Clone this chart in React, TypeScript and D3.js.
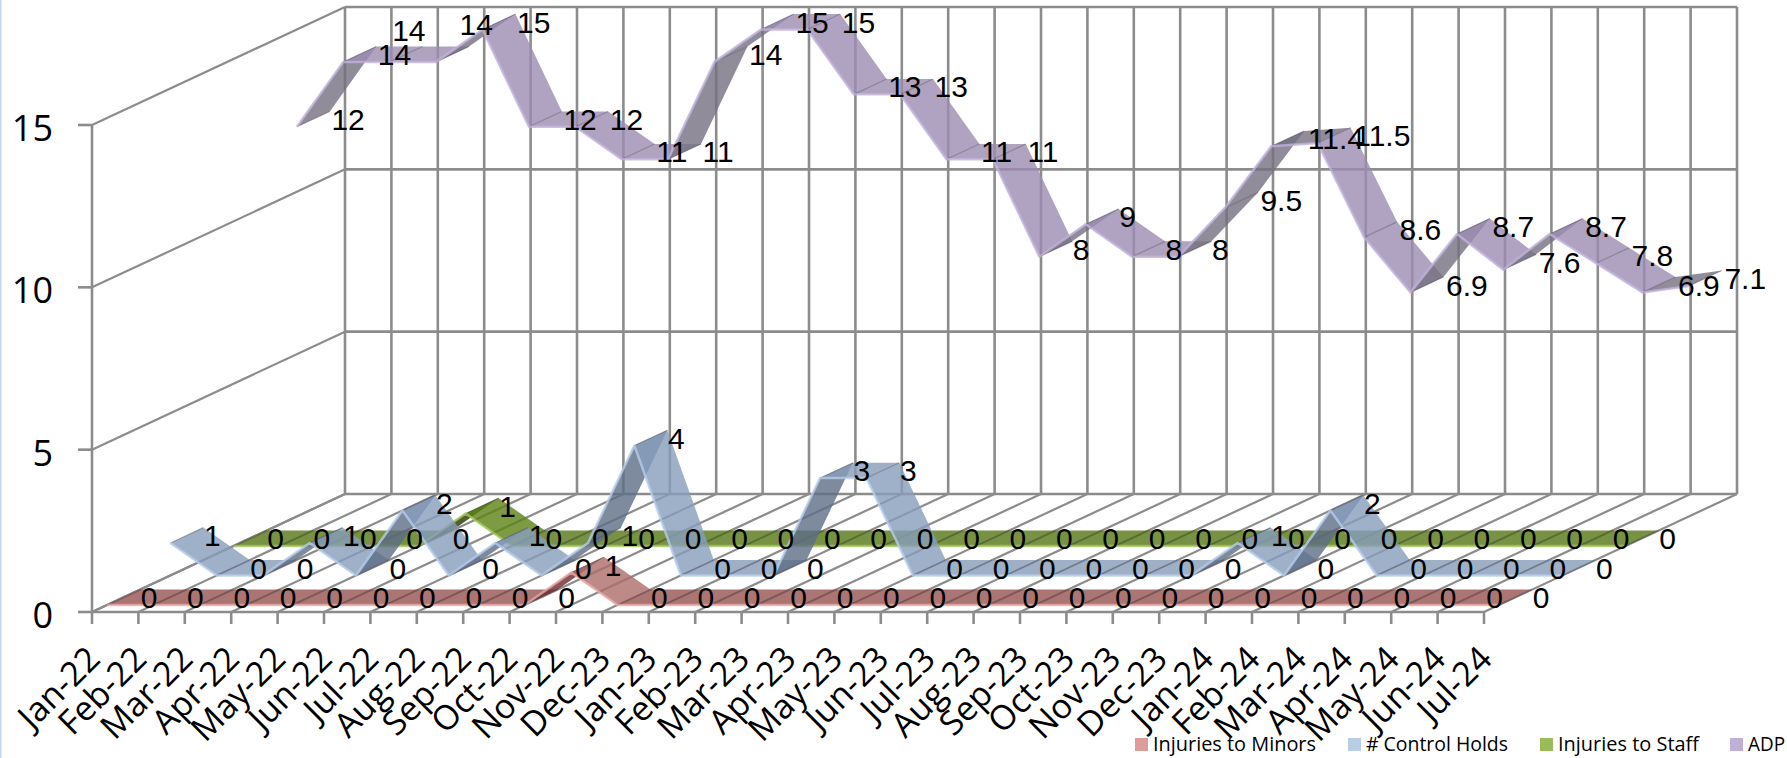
import React from "react";
import { scaleBand, scaleLinear, scalePoint, line } from "d3";

const categories = [
  "Jan-22", "Feb-22", "Mar-22", "Apr-22", "May-22", "Jun-22", "Jul-22", "Aug-22", "Sep-22", "Oct-22", "Nov-22",
  "Dec-23", "Jan-23", "Feb-23", "Mar-23", "Apr-23", "May-23", "Jun-23", "Jul-23", "Aug-23", "Sep-23", "Oct-23",
  "Nov-23", "Dec-23 ", "Jan-24", "Feb-24", "Mar-24", "Apr-24", "May-24", "Jun-24", "Jul-24",
];
const injuriesToMinors = [0, 0, 0, 0, 0, 0, 0, 0, 0, 0, 1, 0, 0, 0, 0, 0, 0, 0, 0, 0, 0, 0, 0, 0, 0, 0, 0, 0, 0, 0, 0];
const controlHolds = [1, 0, 0, 1, 0, 2, 0, 1, 0, 1, 4, 0, 0, 0, 3, 3, 0, 0, 0, 0, 0, 0, 0, 1, 0, 2, 0, 0, 0, 0, 0];
const injuriesToStaff = [0, 0, 0, 0, 0, 1, 0, 0, 0, 0, 0, 0, 0, 0, 0, 0, 0, 0, 0, 0, 0, 0, 0, 0, 0, 0, 0, 0, 0, 0, 0];
const adp = [12, 14, 14, 14, 15, 12, 12, 11, 11, 14, 15, 15, 13, 13, 11, 11, 8, 9, 8, 8, 9.5, 11.4, 11.5, 8.6, 6.9, 8.7, 7.6, 8.7, 7.8, 6.9, 7.1];
const yTicks = [0, 5, 10, 15];

const series = [
  { name: "Injuries to Minors", values: injuriesToMinors, swatch: "#dd9c9b", flat: "#965251", up: "#6b2a2a", down: "#ae6d6a", edge: "#e6a9a7" },
  { name: "# Control Holds", values: controlHolds, swatch: "#b9cde5", flat: "#879cb8", up: "#5e6d86", down: "#879dbb", edge: "#b5cce8" },
  { name: "Injuries to Staff", values: injuriesToStaff, swatch: "#9bbb59", flat: "#567714", up: "#243700", down: "#5c8214", edge: "#a3c45a" },
  { name: "ADP", values: adp, swatch: "#bfb1d5", flat: "#9c8cb0", up: "#746f80", down: "#9c8cb2", edge: "#c1b2da" },
];

// legend layout
const legendX = [1135, 1348, 1540, 1730];
const legendWidth = [163, 142, 141, 37];
// Excel moved these two ADP labels by hand
const labelNudge: Record<string, [number, number]> = { "ADP-2": [-32, -24], "ADP-3": [-11, -30] };

const W = 1787;
const H = 758;
const front = { left: 92, right: 1484, bottom: 612, top: 125 };
const depth = { dx: 253, dy: -118 };
const grid = "#8c8c8c";
const axisFont = "'Open Sans', 'Noto Sans', sans-serif";

export default function App() {
  const x = scalePoint().domain(categories.map((_, i) => String(i))).range([front.left, front.right]);
  const y = scaleLinear().domain([0, 15]).range([front.bottom, front.top]);
  const z = scaleBand().domain(series.map((s) => s.name)).range([0, 1]).paddingInner(0.48).paddingOuter(0.24);

  const project = (i: number, v: number, d: number): [number, number] => [
    (x(String(i)) ?? 0) + d * depth.dx,
    y(v) + d * depth.dy,
  ];
  const path = line();
  const ticksX = categories.map((_, i) => x(String(i)) ?? 0);

  return (
    <svg width={W} height={H} style={{ position: "absolute", left: 0, top: 0, background: "#fff" }}>
      <rect x={0} y={0} width={1.5} height={H} fill="#c6d7ef" />

      {/* walls and floor */}
      <g stroke={grid} strokeWidth={2.6} fill="none">
        {yTicks.map((v) => (
          <g key={v}>
            <line x1={front.left - 14} x2={front.left} y1={y(v)} y2={y(v)} />
            <line x1={front.left} x2={front.left + depth.dx} y1={y(v)} y2={y(v) + depth.dy} strokeWidth={2.2} />
            <line x1={front.left + depth.dx} x2={front.right + depth.dx} y1={y(v) + depth.dy} y2={y(v) + depth.dy} />
          </g>
        ))}
        <line x1={front.left} x2={front.left} y1={y(15)} y2={front.bottom} />
        <line x1={front.left} x2={front.right} y1={front.bottom} y2={front.bottom} />
        {ticksX.map((tx, i) => (
          <g key={i}>
            <line x1={tx} x2={tx} y1={front.bottom} y2={front.bottom + 12} />
            <line x1={tx} x2={tx + depth.dx} y1={front.bottom} y2={front.bottom + depth.dy} strokeWidth={2.2} />
            <line x1={tx + depth.dx} x2={tx + depth.dx} y1={front.bottom + depth.dy} y2={front.top + depth.dy} />
          </g>
        ))}
      </g>

      {/* ribbons, back series first */}
      {[...series].reverse().map((s) => {
        const d0 = z(s.name) ?? 0;
        const d1 = d0 + z.bandwidth();
        return (
          <g key={s.name}>
            {s.values.slice(1).map((v, k) => {
              const prev = s.values[k];
              const fill = v > prev ? s.up : v < prev ? s.down : s.flat;
              const pts = [project(k, prev, d0), project(k + 1, v, d0), project(k + 1, v, d1), project(k, prev, d1)];
              return <path key={k} d={path(pts) + "Z"} fill={fill} fillOpacity={0.8} />;
            })}
            {s.values.map((v, k) => {
              const a = project(k, v, d0);
              const b = project(k, v, d1);
              return <line key={k} x1={a[0]} y1={a[1]} x2={b[0]} y2={b[1]} stroke="#4a4458" strokeOpacity={0.4} strokeWidth={1.2} />;
            })}
            <path
              d={path(s.values.map((v, k) => project(k, v, d0))) ?? ""}
              fill="none"
              stroke={s.edge}
              strokeOpacity={0.8}
              strokeWidth={2.5}
              strokeLinejoin="round"
            />
          </g>
        );
      })}

      {/* data labels */}
      <g fontFamily="'Liberation Sans', Arial, sans-serif" fontSize={30} fill="#000">
        {series.map((s) =>
          s.values.map((v, k) => {
            const [px, py] = project(k, v, (z(s.name) ?? 0) + z.bandwidth() / 2);
            const [nx, ny] = labelNudge[`${s.name}-${k}`] ?? [0, 0];
            const text = String(v);
            return (
              <text key={`${s.name}-${k}`} x={px + 16 + text.length + nx} y={py + ny} dy="0.36em">
                {text}
              </text>
            );
          })
        )}
      </g>

      {/* axis labels */}
      <g fontFamily={axisFont} fill="#000">
        {yTicks.map((v) => (
          <text key={v} x={53} y={y(v) + 3} dy="0.36em" fontSize={36} textAnchor="end">
            {v}
          </text>
        ))}
        {categories.map((c, i) => (
          <text
            key={i}
            transform={`translate(${ticksX[i] + 10},${front.bottom + 49}) rotate(-45)`}
            fontSize={34}
            textAnchor="end"
          >
            {c.trim()}
          </text>
        ))}
      </g>

      {/* legend */}
      <g fontFamily={axisFont} fontSize={20} fill="#000">
        {series.map((s, i) => (
          <g key={s.name}>
            <rect x={legendX[i]} y={738} width={13} height={13} fill={s.swatch} />
            <text x={legendX[i] + 18} y={751} textLength={legendWidth[i]} lengthAdjust="spacingAndGlyphs">
              {s.name}
            </text>
          </g>
        ))}
      </g>
    </svg>
  );
}
